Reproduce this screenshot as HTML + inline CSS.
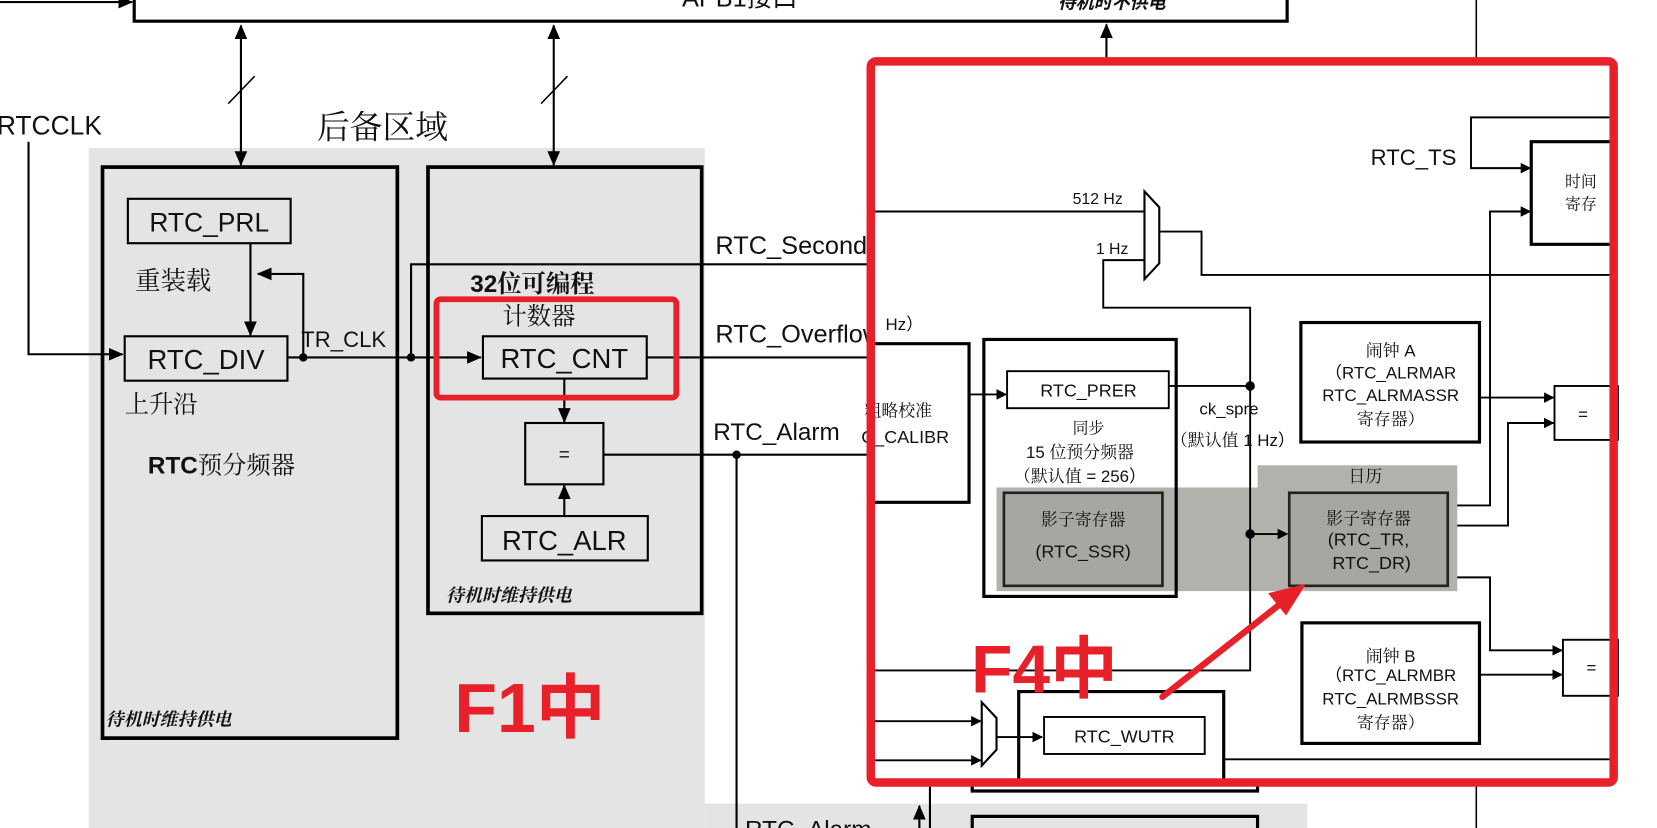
<!DOCTYPE html>
<html><head><meta charset="utf-8"><style>
html,body{margin:0;padding:0;background:#fff;overflow:hidden}
svg{display:block}
text{font-family:"Liberation Sans","Noto Sans CJK SC",sans-serif;fill:#111}
.s{font-family:"Liberation Serif","Noto Serif CJK SC",serif}
.it{font-style:italic;font-weight:bold}
</style></head><body>
<svg width="1657" height="828" viewBox="0 0 1568 783" preserveAspectRatio="none" xmlns="http://www.w3.org/2000/svg">
<defs>
<marker id="a" markerWidth="10" markerHeight="10" refX="9" refY="5" orient="auto" markerUnits="userSpaceOnUse"><path d="M0,0 L10,5 L0,10 z" fill="#000"/></marker>
<marker id="ab" markerWidth="14" markerHeight="14" refX="13" refY="7" orient="auto-start-reverse" markerUnits="userSpaceOnUse"><path d="M0,1 L14,7 L0,13 z" fill="#000"/></marker>
</defs>
<rect width="1568" height="783" fill="#fff"/>
<rect x="84" y="140" width="583" height="643" fill="#e4e4e4"/>
<rect x="667" y="760" width="570" height="23" fill="#e4e4e4"/>
<path d="M127,0 L127,20 L1218,20 L1218,0" fill="none" stroke="#000" stroke-width="3"/>
<line x1="0" y1="2" x2="125" y2="2" stroke="#000" stroke-width="2" marker-end="url(#ab)"/>
<text x="700" y="6" font-size="24" text-anchor="middle">APB1接口</text>
<text x="1052" y="8" font-size="17" class="it" text-anchor="middle">待机时不供电</text>
<line x1="1397" y1="0" x2="1397" y2="783" stroke="#000" stroke-width="1.5"/>
<line x1="228" y1="24" x2="228" y2="156" stroke="#000" stroke-width="2" marker-start="url(#ab)" marker-end="url(#ab)"/>
<line x1="524" y1="24" x2="524" y2="156" stroke="#000" stroke-width="2" marker-start="url(#ab)" marker-end="url(#ab)"/>
<line x1="216" y1="98" x2="241" y2="72" stroke="#000" stroke-width="1.5"/>
<line x1="512" y1="98" x2="537" y2="72" stroke="#000" stroke-width="1.5"/>
<text x="300" y="131" font-size="31" class="s">后备区域</text>
<text x="-3" y="127" font-size="25">RTCCLK</text>
<path d="M27,134 L27,335 L116,335" fill="none" stroke="#000" stroke-width="2" marker-end="url(#ab)"/>
<rect x="97" y="158" width="279" height="540" fill="none" stroke="#000" stroke-width="3.5"/>
<rect x="121" y="188" width="154" height="42" fill="none" stroke="#000" stroke-width="2"/>
<text x="198" y="219" font-size="25" text-anchor="middle">RTC_PRL</text>
<text x="128" y="274" font-size="24" class="s">重装载</text>
<line x1="237" y1="230" x2="237" y2="317" stroke="#000" stroke-width="2" marker-end="url(#ab)"/>
<rect x="118" y="318" width="154" height="42" fill="none" stroke="#000" stroke-width="2"/>
<text x="195" y="349" font-size="26" text-anchor="middle">RTC_DIV</text>
<path d="M287,338 L287,259 L244,259" fill="none" stroke="#000" stroke-width="2" marker-end="url(#ab)"/>
<text x="285" y="328" font-size="21">TR_CLK</text>
<text x="118" y="390" font-size="23" class="s">上升沿</text>
<text x="140" y="448" font-size="23" font-weight="bold">RTC<tspan class="s" font-weight="normal">预分频器</tspan></text>
<text x="100" y="686" font-size="17" class="it s">待机时维持供电</text>
<line x1="272" y1="338" x2="455" y2="338" stroke="#000" stroke-width="2" marker-end="url(#ab)"/>
<circle cx="287" cy="338" r="4"/><circle cx="389" cy="338" r="4"/>
<path d="M389,338 L389,250 L824,250" fill="none" stroke="#000" stroke-width="2"/>
<text x="677" y="240" font-size="24">RTC_Second</text>
<rect x="405" y="158" width="259" height="422" fill="none" stroke="#000" stroke-width="3.5"/>
<text x="445" y="276" font-size="23" font-weight="bold">32<tspan class="s">位可编程</tspan></text>
<text x="510" y="307" font-size="23" class="s" text-anchor="middle">计数器</text>
<rect x="457" y="318" width="155" height="40" fill="none" stroke="#000" stroke-width="2"/>
<text x="534" y="348" font-size="26" text-anchor="middle">RTC_CNT</text>
<line x1="612" y1="338" x2="824" y2="338" stroke="#000" stroke-width="2"/>
<text x="677" y="324" font-size="24">RTC_Overflow</text>
<line x1="534" y1="358" x2="534" y2="399" stroke="#000" stroke-width="2" marker-end="url(#ab)"/>
<rect x="497" y="400" width="74" height="58" fill="none" stroke="#000" stroke-width="2"/>
<text x="534" y="436" font-size="18" text-anchor="middle">=</text>
<rect x="456" y="488" width="157" height="42" fill="none" stroke="#000" stroke-width="2"/>
<text x="534" y="520" font-size="26" text-anchor="middle">RTC_ALR</text>
<line x1="534" y1="488" x2="534" y2="459" stroke="#000" stroke-width="2" marker-end="url(#ab)"/>
<line x1="571" y1="430" x2="824" y2="430" stroke="#000" stroke-width="2"/>
<circle cx="697" cy="430" r="4"/>
<line x1="697" y1="430" x2="697" y2="783" stroke="#000" stroke-width="2"/>
<text x="675" y="416" font-size="23">RTC_Alarm</text>
<text x="422" y="569" font-size="17" class="it s">待机时维持供电</text>
<rect x="413" y="283" width="227" height="93" rx="4" fill="none" stroke="#e8202a" stroke-width="5.5"/>
<text x="430" y="692" font-size="66" font-weight="bold" style="fill:#e8202a">F1中</text>
<text x="705" y="792" font-size="23">RTC_Alarm</text>
<line x1="870" y1="783" x2="870" y2="762" stroke="#000" stroke-width="2" marker-end="url(#ab)"/>
<line x1="880" y1="740" x2="880" y2="783" stroke="#000" stroke-width="2"/>
<path d="M920,740 L920,748 L1190,748 L1190,740" fill="none" stroke="#000" stroke-width="3"/>
<path d="M920,783 L920,772 L1190,772 L1190,783" fill="none" stroke="#000" stroke-width="3"/>
<line x1="1047" y1="58" x2="1047" y2="23" stroke="#000" stroke-width="2" marker-end="url(#ab)"/>
<rect x="824" y="58" width="703" height="682" fill="#fff"/>
<g stroke="#000" fill="none" stroke-width="1.8">
<path d="M1527,111 L1392,111 L1392,159 L1448,159" marker-end="url(#a)"/>
<path d="M824,200 L1083,200"/>
<path d="M1083,181 L1097,196 L1097,249 L1083,264 Z" stroke-width="2"/>
<path d="M1097,219 L1137,219 L1137,260 L1527,260"/>
<path d="M1083,246 L1044,246 L1044,291 L1183,291 L1183,634 L824,634"/>
<path d="M917,373 L952,373" marker-end="url(#a)"/>
<path d="M1106,365 L1183,365"/>
<path d="M1370,478 L1410,478 L1410,200 L1448,200" marker-end="url(#a)"/>
<path d="M1370,497 L1427,497 L1427,400 L1470,400" marker-end="url(#a)"/>
<path d="M1370,546 L1410,546 L1410,615 L1478,615" marker-end="url(#a)"/>
<path d="M1400,376 L1470,376" marker-end="url(#a)"/>
<path d="M1400,638 L1478,638" marker-end="url(#a)"/>
<path d="M824,682 L928,682" marker-end="url(#a)"/>
<path d="M824,719 L928,719" marker-end="url(#a)"/>
<path d="M929,664 L943,679 L943,709 L929,724 Z" stroke-width="2"/>
<path d="M943,697 L986,697" marker-end="url(#a)"/>
<path d="M1158,718 L1527,718"/>
</g>
<rect x="1190" y="440" width="189" height="25" fill="#b3b1ab"/>
<rect x="943" y="461" width="436" height="98" fill="#b3b1ab"/>
<line x1="1183" y1="461" x2="1183" y2="559" stroke="#000" stroke-width="1.8"/>
<circle cx="1183" cy="365" r="4.5"/><circle cx="1183" cy="505" r="4.5"/>
<line x1="1183" y1="505" x2="1218" y2="505" stroke="#000" stroke-width="1.8" marker-end="url(#a)"/>
<path d="M1527,134 L1449,134 L1449,231 L1527,231" fill="none" stroke="#000" stroke-width="3"/>
<text x="1481" y="177" font-size="15" class="s">时间</text>
<text x="1481" y="198" font-size="15" class="s">寄存</text>
<text x="1297" y="156" font-size="21">RTC_TS</text>
<text x="1015" y="193" font-size="15">512 Hz</text>
<text x="1037" y="240" font-size="15">1 Hz</text>
<text x="838" y="312" font-size="16">Hz）</text>
<path d="M824,325 L917,325 L917,475 L824,475" fill="none" stroke="#000" stroke-width="3"/>
<text x="818" y="394" font-size="16" class="s">粗略校准</text>
<text x="815" y="419" font-size="17">C_CALIBR</text>
<rect x="931" y="321" width="182" height="243" fill="none" stroke="#000" stroke-width="3"/>
<rect x="953" y="351" width="153" height="35" fill="#fff" stroke="#000" stroke-width="1.8"/>
<text x="1030" y="375" font-size="17" text-anchor="middle">RTC_PRER</text>
<text x="1030" y="410" font-size="15" class="s" text-anchor="middle">同步</text>
<text x="1022" y="433" font-size="16" text-anchor="middle">15 <tspan class="s">位预分频器</tspan></text>
<text x="1022" y="456" font-size="16" text-anchor="middle"><tspan class="s">（默认值</tspan> = 256）</text>
<rect x="950" y="466" width="150" height="88" fill="#a8a6a0" stroke="#222" stroke-width="2.5"/>
<text x="1025" y="497" font-size="16" class="s" text-anchor="middle">影子寄存器</text>
<text x="1025" y="527" font-size="17" text-anchor="middle">(RTC_SSR)</text>
<text x="1135" y="392" font-size="16">ck_spre</text>
<text x="1108" y="422" font-size="16"><tspan class="s">（默认值</tspan> 1 Hz）</text>
<text x="1292" y="456" font-size="16" class="s" text-anchor="middle">日历</text>
<rect x="1220" y="466" width="150" height="88" fill="#a8a6a0" stroke="#222" stroke-width="2.5"/>
<text x="1295" y="496" font-size="16" class="s" text-anchor="middle">影子寄存器</text>
<text x="1295" y="516" font-size="17" text-anchor="middle">(RTC_TR,</text>
<text x="1298" y="538" font-size="17" text-anchor="middle">RTC_DR)</text>
<rect x="1231" y="305" width="169" height="113" fill="none" stroke="#000" stroke-width="3"/>
<text x="1316" y="337" font-size="16" text-anchor="middle"><tspan class="s">闹钟</tspan> A</text>
<text x="1316" y="358" font-size="16" text-anchor="middle">（RTC_ALRMAR</text>
<text x="1316" y="379" font-size="16" text-anchor="middle">RTC_ALRMASSR</text>
<text x="1316" y="402" font-size="16" class="s" text-anchor="middle">寄存器）</text>
<rect x="1471" y="365" width="60" height="51" fill="#fff" stroke="#000" stroke-width="1.8"/>
<text x="1498" y="397" font-size="16" text-anchor="middle">=</text>
<rect x="1232" y="589" width="168" height="114" fill="none" stroke="#000" stroke-width="3"/>
<text x="1316" y="626" font-size="16" text-anchor="middle"><tspan class="s">闹钟</tspan> B</text>
<text x="1316" y="644" font-size="16" text-anchor="middle">（RTC_ALRMBR</text>
<text x="1316" y="666" font-size="16" text-anchor="middle">RTC_ALRMBSSR</text>
<text x="1316" y="689" font-size="16" class="s" text-anchor="middle">寄存器）</text>
<rect x="1479" y="605" width="52" height="53" fill="#fff" stroke="#000" stroke-width="1.8"/>
<text x="1506" y="637" font-size="16" text-anchor="middle">=</text>
<path d="M964,740 L964,654 L1158,654 L1158,740" fill="none" stroke="#000" stroke-width="3"/>
<rect x="988" y="678" width="152" height="35" fill="#fff" stroke="#000" stroke-width="1.8"/>
<text x="1064" y="702" font-size="17" text-anchor="middle">RTC_WUTR</text>
<text x="919" y="655" font-size="64" font-weight="bold" style="fill:#e8202a">F4中</text>
<line x1="1100" y1="659" x2="1218" y2="566" stroke="#e8202a" stroke-width="6" stroke-linecap="round"/>
<path d="M1236,552 L1200,561 L1217,582 Z" fill="#e8202a"/>
<rect x="824" y="58" width="703" height="682" rx="5" fill="none" stroke="#e8202a" stroke-width="8"/>
</svg>
</body></html>
